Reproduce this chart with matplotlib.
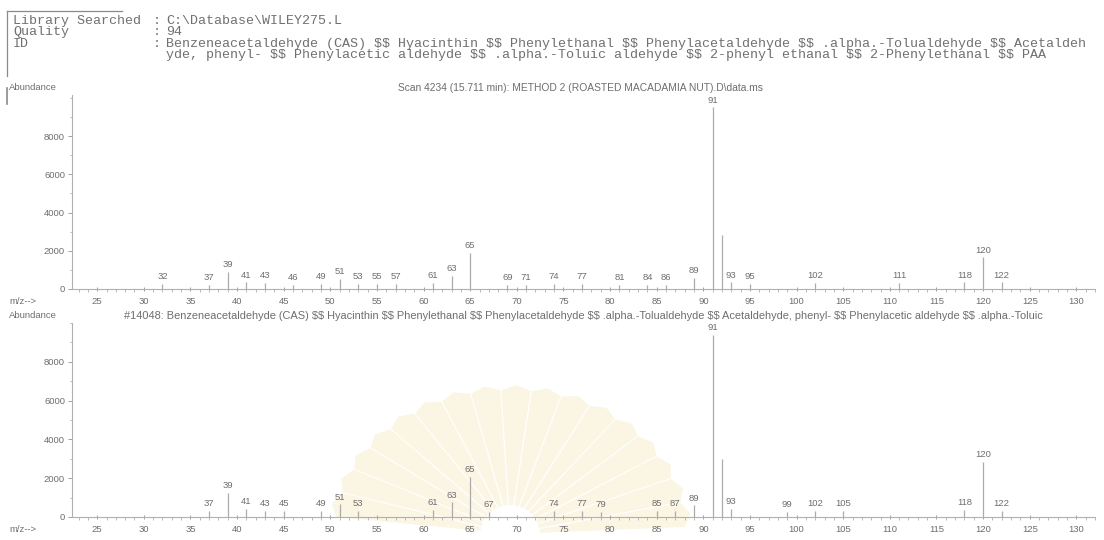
import matplotlib
matplotlib.use("Agg")
import numpy as np
import matplotlib.pyplot as plt
from matplotlib.patches import Polygon, Circle
from matplotlib.ticker import MultipleLocator

plt.rcParams["text.parse_math"] = False

# ---------------- data ----------------
header_labels = ["Library Searched", "Quality", "ID", ""]
header_values = [
    "C:\\Database\\WILEY275.L",
    "94",
    "Benzeneacetaldehyde (CAS) $$ Hyacinthin $$ Phenylethanal $$ Phenylacetaldehyde $$ .alpha.-Tolualdehyde $$ Acetaldeh",
    "yde, phenyl- $$ Phenylacetic aldehyde $$ .alpha.-Toluic aldehyde $$ 2-phenyl ethanal $$ 2-Phenylethanal $$ PAA",
]
top_title = "Scan 4234 (15.711 min): METHOD 2 (ROASTED MACADAMIA NUT).D\\data.ms"
bottom_title = ("#14048: Benzeneacetaldehyde (CAS) $$ Hyacinthin $$ Phenylethanal $$ Phenylacetaldehyde $$ "
                ".alpha.-Tolualdehyde $$ Acetaldehyde, phenyl- $$ Phenylacetic aldehyde $$ .alpha.-Toluic")

top_mz = [32, 37, 39, 41, 43, 46, 49, 51, 53, 55, 57, 61, 63, 65, 69, 71, 74, 77, 81, 84, 86,
          89, 91, 92, 93, 95, 102, 111, 118, 120, 122]
top_ab = [250, 200, 900, 350, 300, 200, 250, 520, 250, 250, 250, 300, 700, 1900, 200, 200, 250, 250, 200, 200, 200,
          600, 9500, 2800, 350, 250, 300, 300, 350, 1650, 350]
top_lab = [32, 37, 39, 41, 43, 46, 49, 51, 53, 55, 57, 61, 63, 65, 69, 71, 74, 77, 81, 84, 86,
           89, 91, 93, 95, 102, 111, 118, 120, 122]

bot_mz = [37, 39, 41, 43, 45, 49, 51, 53, 61, 63, 65, 67, 74, 77, 79, 85, 87, 89, 91, 92, 93,
          99, 102, 105, 118, 120, 122]
bot_ab = [300, 1250, 400, 300, 300, 300, 650, 300, 350, 750, 2050, 250, 300, 300, 250, 300, 300, 600, 9400, 3000, 400,
          250, 300, 300, 350, 2850, 300]
bot_lab = [37, 39, 41, 43, 45, 49, 51, 53, 61, 63, 65, 67, 74, 77, 79, 85, 87, 89, 91, 93,
           99, 102, 105, 118, 120, 122]

x_ticks = list(range(25, 131, 5))
y_ticks = [0, 2000, 4000, 6000, 8000]

# ---------------- figure ----------------
W, H = 1104, 540
fig = plt.figure(figsize=(W / 100, H / 100), dpi=100)
fig.patch.set_facecolor("white")

# faint watermark (pixel coordinates)
bg = fig.add_axes([0, 0, 1, 1], zorder=-5)
bg.set_xlim(0, W)
bg.set_ylim(H, 0)
bg.axis("off")
cx, cy = 510, 535
for a in range(8, 176, 10):
    t0, t1 = np.radians(a - 4.8), np.radians(a + 4.8)
    tm = np.radians(a)
    pts = [(cx + 25 * np.cos(tm - 0.06), cy - 25 * np.sin(tm - 0.06)),
           (cx + 175 * np.cos(t0), cy - 145 * np.sin(t0)),
           (cx + 182 * np.cos(tm), cy - 150 * np.sin(tm)),
           (cx + 175 * np.cos(t1), cy - 145 * np.sin(t1)),
           (cx + 25 * np.cos(tm + 0.06), cy - 25 * np.sin(tm + 0.06))]
    bg.add_patch(Polygon(pts, closed=True, facecolor="#fbf5e4", edgecolor="none"))
bg.add_patch(Circle((cx, cy), 30, facecolor="white", edgecolor="none"))

GRAY = "#6e6e6e"
LINE = "#ababab"
HEAD = "#707070"

fig.add_artist(plt.Line2D([7 / W, 122 / W], [1 - 11 / H, 1 - 11 / H], color="#8a8a8a", lw=0.9))
fig.add_artist(plt.Line2D([7 / W, 7 / W], [1 - 11 / H, 1 - 76 / H], color="#8a8a8a", lw=0.9))
fig.add_artist(plt.Line2D([7 / W, 7 / W], [1 - 88 / H, 1 - 104 / H], color="#8a8a8a", lw=1.2))

mono = "Liberation Mono"
for i, (lab, val) in enumerate(zip(header_labels, header_values)):
    yy = 1 - (21 + 11.4 * i) / H
    if lab:
        fig.text(13 / W, yy, lab, family=mono, fontsize=9.6, color=HEAD, va="center", ha="left")
        fig.text(153 / W, yy, ":", family=mono, fontsize=9.6, color=HEAD, va="center", ha="left")
    fig.text(166 / W, yy, val, family=mono, fontsize=9.6, color=HEAD, va="center", ha="left")


def panel(bottom_px, top_px, mz, ab, labels, title, ymax, title_x, title_fs):
    ax = fig.add_axes([72 / W, 1 - bottom_px / H, (1095 - 72) / W, (bottom_px - top_px) / H])
    ax.set_facecolor("none")
    ax.set_xlim(22.3, 132)
    ax.set_ylim(0, ymax)
    ax.vlines(mz, 0, ab, color=LINE, lw=0.9)
    amap = dict(zip(mz, ab))
    for m in labels:
        ax.annotate(str(m), (m, amap[m]), xytext=(0, 2), textcoords="offset points",
                    ha="center", va="bottom", fontsize=6.8, color=GRAY, family="Liberation Sans")
    for s in ["top", "right"]:
        ax.spines[s].set_visible(False)
    for s in ["left", "bottom"]:
        ax.spines[s].set_color("#b0b0b0")
        ax.spines[s].set_linewidth(0.8)
    ax.set_xticks(x_ticks)
    ax.set_yticks(y_ticks)
    ax.xaxis.set_minor_locator(MultipleLocator(1))
    ax.yaxis.set_minor_locator(MultipleLocator(1000))
    ax.tick_params(axis="both", which="major", labelsize=6.8, labelcolor=GRAY, color="#a0a0a0",
                   length=3, width=0.7, pad=2)
    ax.tick_params(axis="both", which="minor", color="#b0b0b0", length=1.8, width=0.6)
    ax.tick_params(axis="x", direction="inout", pad=4)
    for t in ax.get_xticklabels() + ax.get_yticklabels():
        t.set_family("Liberation Sans")
    fig.text(9 / W, 1 - (bottom_px + 12) / H, "m/z-->", fontsize=6.8, color=GRAY,
             family="Liberation Sans", va="center", ha="left")
    fig.text(9 / W, 1 - (top_px - 7) / H, "Abundance", fontsize=6.8, color=GRAY,
             family="Liberation Sans", va="center", ha="left")
    fig.text(title_x / W, 1 - (top_px - 7) / H, title, fontsize=title_fs, color=GRAY,
             family="Liberation Sans", va="center", ha="center")
    return ax


panel(289, 95, top_mz, top_ab, top_lab, top_title, 10150, 580, 7.4)
panel(517, 323, bot_mz, bot_ab, bot_lab, bottom_title, 10000, 583, 7.9)

fig.savefig("out.png", dpi=100, facecolor="white")
